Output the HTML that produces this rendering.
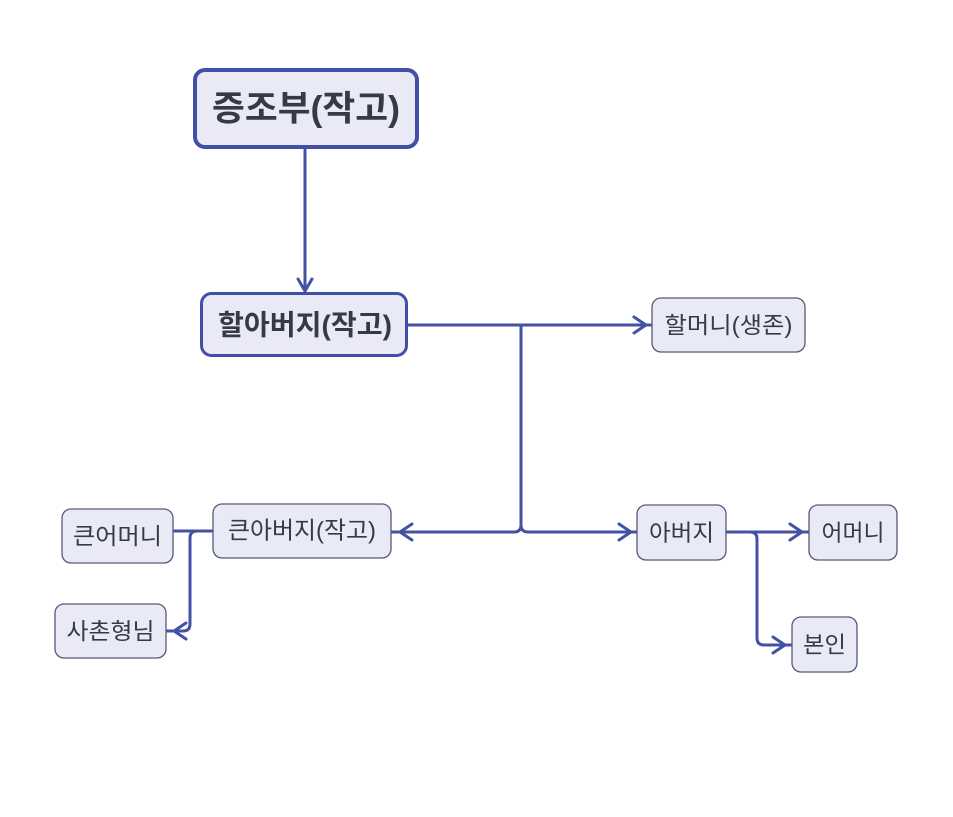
<!DOCTYPE html>
<html><head><meta charset="utf-8"><style>
html,body{margin:0;padding:0;background:#fff;}
svg{display:block;}
text{font-family:"Liberation Sans","Noto Sans CJK KR","NanumGothic",sans-serif;fill:#353b44;dominant-baseline:central;text-anchor:middle;}
</style></head><body>
<svg width="953" height="817" viewBox="0 0 953 817" xmlns="http://www.w3.org/2000/svg">
<g fill="none" stroke="#4352a5" stroke-width="3" stroke-linecap="round" stroke-linejoin="round">
  <path d="M305 148 V291"/>
  <path d="M298 279 L305 291 L312 279"/>
  <path d="M408 325 H651"/>
  <path d="M634 317 L646 325 L634 333"/>
  <path d="M521 325 V525 Q521 532 514 532 H391"/>
  <path d="M521 525 Q521 532 528 532 H637"/>
  <path d="M412 524 L400 532 L412 540"/>
  <path d="M619 524 L631 532 L619 540"/>
  <path d="M726 532 H809"/>
  <path d="M790 524 L802 532 L790 540"/>
  <path d="M750 532 Q757 532 757 539 V638 Q757 645 764 645 H792"/>
  <path d="M773 637 L785 645 L773 653"/>
  <path d="M213 531 H173"/>
  <path d="M197 531 Q190 531 190 538 V624 Q190 631 183 631 H166"/>
  <path d="M186 623 L174 631 L186 639"/>
</g>
<rect x="195" y="70" width="222" height="77" rx="10" fill="#e9eaf5" stroke="#4150a6" stroke-width="4"/>
<text x="306" y="109" font-size="35" font-weight="bold" textLength="188" lengthAdjust="spacingAndGlyphs">증조부(작고)</text>

<rect x="201.5" y="293.5" width="205" height="62" rx="10" fill="#e9eaf5" stroke="#4150a6" stroke-width="3"/>
<text x="305" y="325" font-size="28" font-weight="bold" textLength="174" lengthAdjust="spacingAndGlyphs">할아버지(작고)</text>

<rect x="652" y="298" width="153" height="54" rx="9" fill="#e9eaf5" stroke="#545b7c" stroke-width="1.3"/>
<text x="728.5" y="325" font-size="23" textLength="128" lengthAdjust="spacingAndGlyphs">할머니(생존)</text>

<rect x="213" y="504" width="178" height="54" rx="9" fill="#e9eaf5" stroke="#545b7c" stroke-width="1.3"/>
<text x="302" y="531" font-size="24" textLength="148" lengthAdjust="spacingAndGlyphs">큰아버지(작고)</text>

<rect x="62" y="509" width="111" height="54" rx="9" fill="#e9eaf5" stroke="#545b7c" stroke-width="1.3"/>
<text x="117.5" y="536" font-size="23" textLength="89" lengthAdjust="spacingAndGlyphs">큰어머니</text>

<rect x="55" y="604" width="111" height="54" rx="9" fill="#e9eaf5" stroke="#545b7c" stroke-width="1.3"/>
<text x="110.5" y="631" font-size="23" textLength="88" lengthAdjust="spacingAndGlyphs">사촌형님</text>

<rect x="637" y="505" width="89" height="55" rx="9" fill="#e9eaf5" stroke="#545b7c" stroke-width="1.3"/>
<text x="681.5" y="532.5" font-size="23" textLength="65" lengthAdjust="spacingAndGlyphs">아버지</text>

<rect x="809" y="505" width="88" height="55" rx="9" fill="#e9eaf5" stroke="#545b7c" stroke-width="1.3"/>
<text x="853" y="532.5" font-size="23" textLength="63" lengthAdjust="spacingAndGlyphs">어머니</text>

<rect x="792" y="617" width="65" height="55" rx="9" fill="#e9eaf5" stroke="#545b7c" stroke-width="1.3"/>
<text x="824.5" y="644.5" font-size="23" textLength="43" lengthAdjust="spacingAndGlyphs">본인</text>
</svg>
</body></html>
